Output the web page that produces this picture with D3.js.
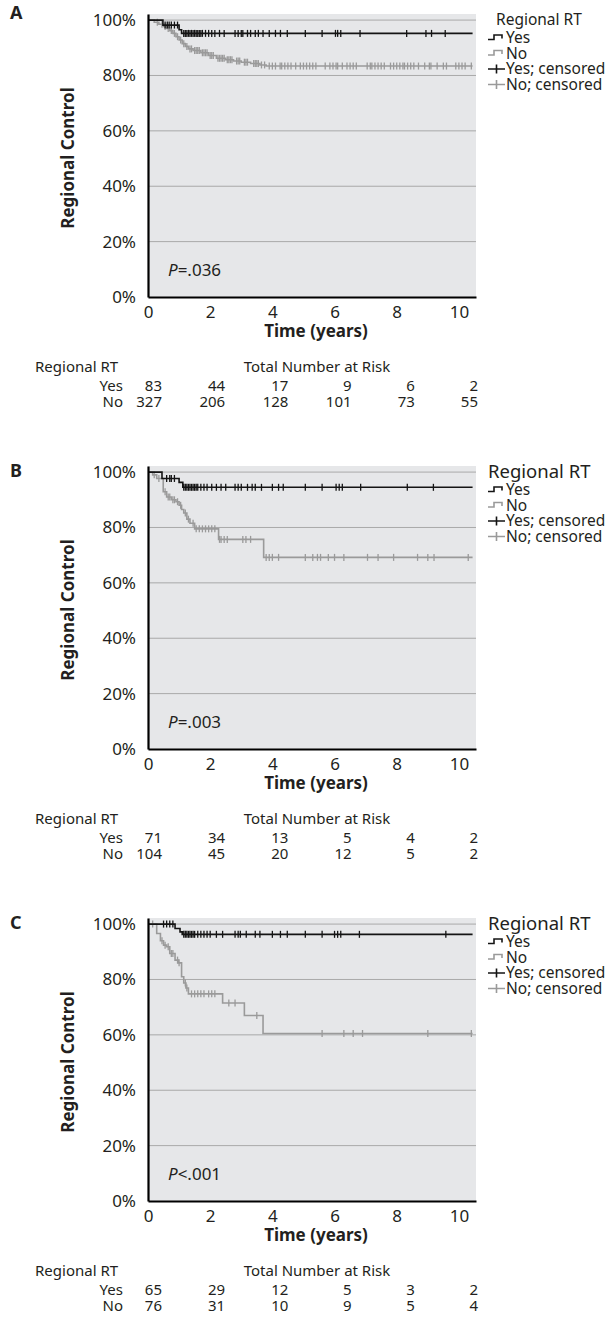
<!DOCTYPE html>
<html lang="en">
<head>
<meta charset="utf-8">
<title>Regional control by regional RT</title>
<script src="https://cdn.jsdelivr.net/npm/d3@7"></script>
<style>
  body { margin: 0; background: #fff; }
  svg text { font-family: "Noto Sans", "Open Sans", sans-serif; fill: #231f20; }
</style>
</head>
<body>
<script>
// ---- data ----
var panelNames = ["A", "B", "C"];
var pLabels = ["=.036", "=.003", "<.001"];
var xTicks = [0, 2, 4, 6, 8, 10];
var yTicks = [0, 0.2, 0.4, 0.6, 0.8, 1];
var riskTimes = [0, 2, 4, 6, 8, 10];

// panel A
var aYesTimes = [0, 0.48, 1.0, 1.08];
var aYesSurv = [1, 0.982, 0.965, 0.952];
var aYesCens = [0.55, 0.62, 0.68, 0.75, 0.85, 0.95, 1.15, 1.2, 1.25, 1.3, 1.35, 1.4, 1.45, 1.5, 1.55, 1.6, 1.65, 1.7, 1.75, 1.85, 1.95, 2.05, 2.15, 2.3, 2.45, 2.8, 2.9, 3.0, 3.05, 3.2, 3.3, 3.45, 3.55, 3.7, 3.9, 4.1, 4.26, 4.48, 5.06, 5.6, 6.03, 6.1, 6.2, 6.82, 8.32, 8.94, 9.12, 9.56];
var aNoTimes = [0, 0.2, 0.35, 0.5, 0.6, 0.7, 0.8, 0.9, 1.0, 1.1, 1.2, 1.3, 1.45, 1.7, 1.95, 2.2, 2.5, 2.75, 3.0, 3.3, 3.6, 3.8];
var aNoSurv = [1, 0.992, 0.985, 0.977, 0.97, 0.962, 0.952, 0.94, 0.928, 0.915, 0.905, 0.896, 0.89, 0.882, 0.872, 0.862, 0.857, 0.852, 0.848, 0.843, 0.838, 0.834];
var aNoCens = [0.3, 0.45, 0.55, 0.65, 0.75, 0.85, 0.95, 1.05, 1.15, 1.25, 1.35, 1.4, 1.5, 1.55, 1.6, 1.65, 1.75, 1.8, 1.85, 1.9, 2.0, 2.05, 2.1, 2.25, 2.3, 2.35, 2.4, 2.45, 2.55, 2.6, 2.65, 2.7, 2.85, 2.9, 2.95, 3.1, 3.15, 3.2, 3.4, 3.45, 3.5, 3.55, 3.65, 3.75, 3.9, 4.0, 4.1, 4.25, 4.3, 4.4, 4.5, 4.6, 4.75, 4.9, 5.0, 5.1, 5.2, 5.3, 5.4, 5.7, 5.85, 5.95, 6.05, 6.1, 6.25, 6.4, 6.5, 6.6, 6.7, 7.05, 7.15, 7.2, 7.3, 7.4, 7.5, 7.6, 7.8, 7.9, 8.0, 8.1, 8.2, 8.25, 8.35, 8.45, 8.55, 8.7, 8.9, 9.05, 9.1, 9.3, 9.5, 9.6, 9.9, 10.0, 10.1, 10.2, 10.4];
var aRiskYes = [83, 44, 17, 9, 6, 2];
var aRiskNo = [327, 206, 128, 101, 73, 55];

// panel B
var bYesTimes = [0, 0.45, 1.0, 1.12];
var bYesSurv = [1, 0.977, 0.963, 0.945];
var bYesCens = [0.6, 0.7, 0.75, 0.85, 1.15, 1.2, 1.25, 1.3, 1.35, 1.4, 1.45, 1.5, 1.55, 1.6, 1.7, 1.8, 1.9, 2.05, 2.2, 2.35, 2.5, 2.8, 2.9, 3.0, 3.2, 3.35, 3.45, 3.65, 4.0, 4.2, 4.35, 5.06, 5.6, 6.05, 6.15, 6.25, 6.84, 8.34, 9.18];
var bNoTimes = [0, 0.15, 0.28, 0.49, 0.6, 0.75, 0.9, 1.0, 1.08, 1.15, 1.25, 1.35, 1.5, 2.27, 3.72];
var bNoSurv = [1, 0.99, 0.977, 0.929, 0.91, 0.9, 0.893, 0.88, 0.865, 0.852, 0.83, 0.815, 0.795, 0.757, 0.692];
var bNoCens = [0.2, 0.35, 0.55, 0.65, 0.7, 0.8, 0.85, 0.95, 1.05, 1.2, 1.3, 1.45, 1.55, 1.65, 1.75, 1.85, 1.95, 2.05, 2.15, 2.3, 2.35, 2.45, 2.55, 3.05, 3.15, 3.3, 3.8, 3.9, 4.0, 4.2, 5.06, 5.3, 5.45, 5.55, 5.8, 6.0, 6.3, 7.06, 7.4, 7.9, 8.67, 9.0, 9.2, 10.3];
var bRiskYes = [71, 34, 13, 5, 4, 2];
var bRiskNo = [104, 45, 20, 12, 5, 2];

// panel C
var cYesTimes = [0, 0.87, 1.03, 1.1];
var cYesSurv = [1, 0.984, 0.972, 0.963];
var cYesCens = [0.5, 0.6, 0.7, 0.8, 1.15, 1.2, 1.25, 1.3, 1.35, 1.4, 1.45, 1.5, 1.6, 1.7, 1.8, 1.9, 2.0, 2.2, 2.4, 2.8, 2.9, 2.97, 3.16, 3.45, 3.6, 4.0, 4.26, 4.48, 5.06, 5.6, 6.0, 6.1, 6.2, 6.8, 9.58];
var cNoTimes = [0, 0.28, 0.4, 0.5, 0.6, 0.7, 0.87, 0.97, 1.08, 1.15, 1.22, 1.3, 2.4, 3.1, 3.7];
var cNoSurv = [1, 0.966, 0.94, 0.924, 0.918, 0.894, 0.87, 0.86, 0.81, 0.787, 0.769, 0.748, 0.715, 0.67, 0.605];
var cNoCens = [0.15, 0.45, 0.55, 0.65, 0.75, 0.8, 0.95, 1.0, 1.2, 1.25, 1.4, 1.5, 1.6, 1.7, 1.8, 1.95, 2.05, 2.15, 2.6, 2.8, 3.5, 5.6, 6.3, 6.6, 6.9, 9.0, 10.4];
var cRiskYes = [65, 29, 12, 5, 3, 2];
var cRiskNo = [76, 31, 10, 9, 5, 4];

var endTime = 10.44;

var panels = [
  {yes: [aYesTimes, aYesSurv, aYesCens], no: [aNoTimes, aNoSurv, aNoCens], risk: [aRiskYes, aRiskNo]},
  {yes: [bYesTimes, bYesSurv, bYesCens], no: [bNoTimes, bNoSurv, bNoCens], risk: [bRiskYes, bRiskNo]},
  {yes: [cYesTimes, cYesSurv, cYesCens], no: [cNoTimes, cNoSurv, cNoCens], risk: [cRiskYes, cRiskNo]}
];

var black = "#141414", grey = "#9a9a9a";
var W = 610, H = 1322, panelH = 452;

var svg = d3.select("body").append("svg").attr("width", W).attr("height", H);

var x = d3.scaleLinear().domain([0, 10.55]).range([148, 476]);
var y = d3.scaleLinear().domain([0, 1.022]).range([297, 14]);
var riskX = d3.scalePoint().domain(riskTimes).range([162, 478]);

function survAt(times, surv, t) {
  var i = d3.bisectRight(times, t) - 1;
  return surv[Math.max(0, i)];
}

var step = d3.line()
  .x(function(d) { return x(d[0]); })
  .y(function(d) { return y(d[1]); })
  .curve(d3.curveStepAfter);

panels.forEach(function(p, k) {
  var g = svg.append("g").attr("transform", "translate(0," + (k * panelH) + ")");

  // plot background
  g.append("rect")
    .attr("x", x(0)).attr("y", y(1.022))
    .attr("width", x(10.55) - x(0)).attr("height", y(0) - y(1.022))
    .attr("fill", "#e6e7e9");

  // gridlines
  g.selectAll(".grid").data(yTicks.slice(1)).enter().append("line")
    .attr("x1", x(0)).attr("x2", x(10.55))
    .attr("y1", function(d) { return y(d); }).attr("y2", function(d) { return y(d); })
    .attr("stroke", "#a9a9a9").attr("stroke-width", 1);

  // curves: No first (grey), then Yes (black) on top
  [[p.no, grey], [p.yes, black]].forEach(function(s) {
    var times = s[0][0], surv = s[0][1], cens = s[0][2];
    var pts = times.map(function(t, i) { return [t, surv[i]]; });
    pts.push([endTime, surv[surv.length - 1]]);
    g.append("path").datum(pts)
      .attr("d", step).attr("fill", "none")
      .attr("stroke", s[1]).attr("stroke-width", 1.6);
    g.selectAll(null).data(cens).enter().append("line")
      .attr("x1", function(d) { return x(d); }).attr("x2", function(d) { return x(d); })
      .attr("y1", function(d) { return y(survAt(times, surv, d)) - 3.5; })
      .attr("y2", function(d) { return y(survAt(times, surv, d)) + 3.5; })
      .attr("stroke", s[1]).attr("stroke-width", 1.3);
  });

  // axes
  var ya = g.append("g").attr("transform", "translate(" + x(0) + ",0)")
    .call(d3.axisLeft(y).tickValues(yTicks).tickFormat(d3.format(".0%")).tickSize(0).tickPadding(12));
  var xa = g.append("g").attr("transform", "translate(0," + y(0) + ")")
    .call(d3.axisBottom(x).tickValues(xTicks).tickFormat(d3.format("d")).tickSize(0).tickPadding(9));
  [ya, xa].forEach(function(a) {
    a.select(".domain").attr("stroke", "#000").attr("stroke-width", 2.2);
    a.selectAll("text").attr("font-size", 17).attr("font-family", "Noto Sans").attr("fill", "#231f20");
  });

  g.append("text")
    .attr("transform", "translate(74,158) rotate(-90)")
    .attr("text-anchor", "middle").attr("font-size", 17).attr("font-weight", "bold")
    .text("Regional Control");
  g.append("text")
    .attr("x", (x(0) + x(10.55)) / 2 + 4).attr("y", 337)
    .attr("text-anchor", "middle").attr("font-size", 17).attr("font-weight", "bold")
    .text("Time (years)");

  // panel letter
  g.append("text").attr("x", 10).attr("y", k === 0 ? 19 : 25)
    .attr("font-size", 18).attr("font-weight", "bold").text(panelNames[k]);

  // p value
  var pt = g.append("text").attr("x", 168).attr("y", 276).attr("font-size", 17);
  pt.append("tspan").attr("font-style", "italic").text("P");
  pt.append("tspan").text(pLabels[k]);

  // legend
  var big = k > 0;
  g.append("text").attr("x", big ? 488 : 496).attr("y", big ? 26 : 25)
    .attr("font-size", big ? 18.5 : 15.5).text("Regional RT");
  var items = [["Yes", black, "step"], ["No", grey, "step"], ["Yes; censored", black, "cens"], ["No; censored", grey, "cens"]];
  items.forEach(function(it, i) {
    var cy = 38 + i * 15.5;
    if (it[2] === "step") {
      g.append("path")
        .attr("d", "M488," + (cy + 1.5) + "H494V" + (cy - 3) + "H502V" + (cy + 0.5))
        .attr("fill", "none").attr("stroke", it[1]).attr("stroke-width", 1.6);
    } else {
      g.append("path")
        .attr("d", "M488," + cy + "H505M496.5," + (cy - 4.5) + "V" + (cy + 4.5))
        .attr("fill", "none").attr("stroke", it[1]).attr("stroke-width", 1.6);
    }
    g.append("text").attr("x", 506).attr("y", cy + 5).attr("font-size", 15.5).text(it[0]);
  });

  // number at risk table
  g.append("text").attr("x", 35).attr("y", 372).attr("font-size", 15).text("Regional RT");
  g.append("text").attr("x", 317).attr("y", 372).attr("text-anchor", "middle")
    .attr("font-size", 15).text("Total Number at Risk");
  var rows = [["Yes", p.risk[0], 391], ["No", p.risk[1], 407]];
  rows.forEach(function(r) {
    g.append("text").attr("x", 123).attr("y", r[2]).attr("text-anchor", "end")
      .attr("font-size", 15).text(r[0]);
    g.selectAll(null).data(r[1]).enter().append("text")
      .attr("x", function(d, i) { return riskX(riskTimes[i]); })
      .attr("y", r[2]).attr("text-anchor", "end").attr("font-size", 15)
      .text(function(d) { return d; });
  });
});
</script>
</body>
</html>
